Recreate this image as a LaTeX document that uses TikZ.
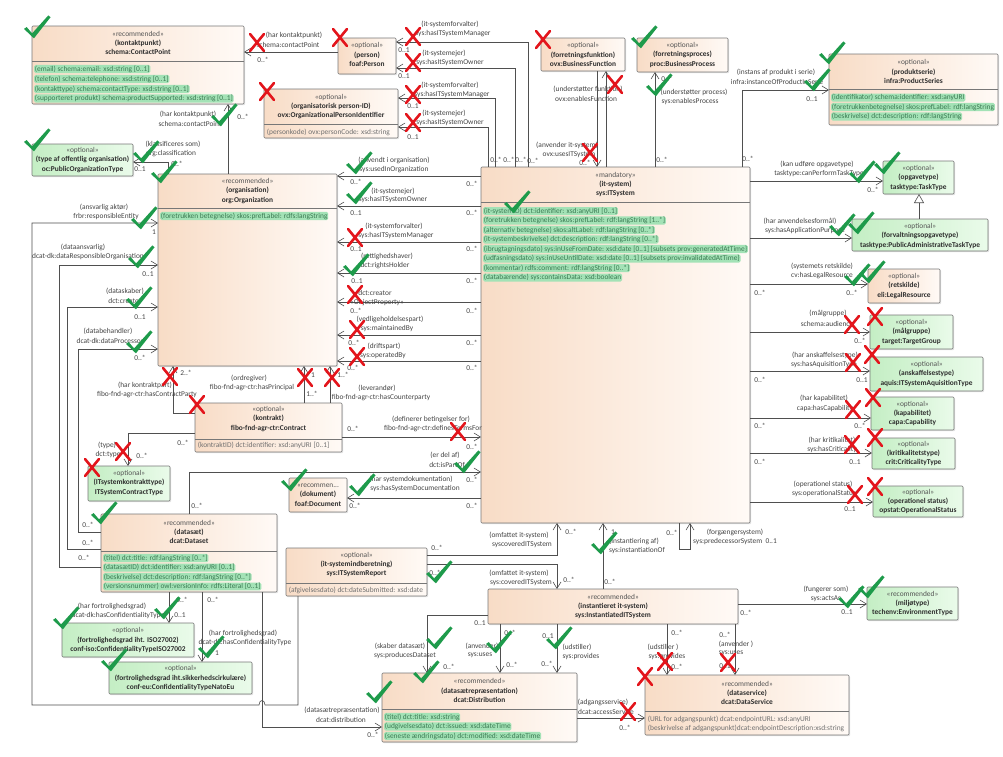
\documentclass[tikz,border=0pt]{standalone}
\usepackage{fontspec}
\setmainfont{Carlito}
\usetikzlibrary{arrows.meta,shadows}

\definecolor{peachL}{HTML}{F8DCC6}
\definecolor{peachR}{HTML}{FFFAF6}
\definecolor{greenL}{HTML}{C4EEC4}
\definecolor{greenR}{HTML}{EAFBEA}
\definecolor{edge}{HTML}{777777}
\definecolor{wire}{HTML}{4F4F4F}
\definecolor{txt}{HTML}{2E2E2E}
\definecolor{lbltxt}{HTML}{444444}
\definecolor{stereo}{HTML}{555555}
\definecolor{hl}{HTML}{A3E2B6}
\definecolor{hltxt}{HTML}{3B7A52}
\definecolor{attr}{HTML}{707070}
\definecolor{okgreen}{HTML}{1E9B4B}
\definecolor{nored}{HTML}{E3151C}

\tikzset{
  every node/.style={font=\fontsize{7.4}{9.4}\selectfont, text=txt},
  cls/.style={draw=edge, line width=0.6pt, rounded corners=1pt, inner sep=0pt, outer sep=0pt,
    anchor=north west, drop shadow={shadow xshift=1.2pt, shadow yshift=-1.2pt, opacity=0.22}},
  peach/.style={cls, left color=peachL, right color=peachR},
  mint/.style={cls, left color=greenL, right color=greenR},
  edgeline/.style={draw=edge, line width=0.6pt},
  hdrtext/.style={align=center, inner sep=0pt},
  hlatt/.style={fill=hl, text=hltxt, rounded corners=1.5pt, inner sep=0.7pt, anchor=west},
  plainatt/.style={text=attr, inner sep=0.7pt, anchor=west},
  lbl/.style={inner sep=0.3pt, text=lbltxt},
  assoc/.style={draw=wire, line width=0.6pt, -{Straight Barb[length=6.5pt,width=8pt,line width=0.6pt]}},
  gen/.style={draw=wire, line width=0.6pt, -{Triangle[open,length=9pt,width=10pt,fill=white]}},
  okmark/.style={fill=okgreen},
  nomark/.style={draw=nored, line width=2.6pt, line cap=round},
}

\newcounter{lbl}
% class box: name, style, x1, y1, x2, y2
\newcommand\klass[6]{\node[#2, minimum width={#5-#3}, minimum height={#6-#4}] (#1) at (#3,#4) {};}
% header text: name, x, y, stereotype, title, class name
\newcommand\hdr[6]{\node[hdrtext] (#1) at (#2,#3) {{\color{stereo}#4}\\\textbf{#5}\\\textbf{#6}};}
% compartment line across a box
\newcommand\divider[2]{\draw[edgeline] (#1.west |- 0,#2) -- (#1.east |- 0,#2);}
% highlighted and plain attributes
\newcommand\hatt[3]{\stepcounter{lbl}\node[hlatt] (a\arabic{lbl}) at (#1,#2) {#3};}
\newcommand\patt[3]{\stepcounter{lbl}\node[plainatt] (a\arabic{lbl}) at (#1,#2) {#3};}
% connector label
\newcommand\lab[3]{\stepcounter{lbl}\node[lbl] (t\arabic{lbl}) at (#1,#2) {#3};}
% review marks
\newcommand\chk[2]{\fill[okmark, shift={(#1,#2)}, scale=0.9] (-10,-9) -- (-7,-11) -- (-1,-4) -- (17,-24) -- (19.5,-22) -- (1,1.5) -- cycle;}
\newcommand\nox[2]{\draw[nomark] (#1-7,#2-9) -- (#1+7,#2+8) (#1+7,#2-9) -- (#1-7,#2+8);}

\begin{document}
\begin{tikzpicture}[x=1pt,y=-1pt]
\useasboundingbox (0,0) rectangle (1003,756);
\fill[white] (0,0) rectangle (1003,756);

% ---------------- classes ----------------
\klass{cp}{peach}{32}{26}{244}{104}
\hdr{cph}{138}{43}{«recommended»}{(kontaktpunkt)}{schema:ContactPoint}
\divider{cp}{61}
\hatt{34}{69}{(email) schema:email: xsd:string [0..1]}
\hatt{34}{79}{(telefon) schema:telephone: xsd:string [0..1]}
\hatt{34}{89}{(kontakttype) schema:contactType: xsd:string [0..1]}
\hatt{34}{98.5}{(supporteret produkt) schema:productSupported: xsd:string [0..1]}

\klass{person}{peach}{338}{38}{396}{74}
\hdr{personh}{367}{54.5}{«optional»}{(person)}{foaf:Person}

\klass{opi}{peach}{264}{89}{398}{138}
\hdr{opih}{331}{106.5}{«optional»}{(organisatorisk person-ID)}{ovx:OrganizationalPersonIdentifier}
\divider{opi}{124}
\patt{266}{132}{(personkode) ovx:personCode: xsd:string}

\klass{bf}{peach}{541}{38}{625}{71}
\hdr{bfh}{583}{54.5}{«optional»}{(forretningsfunktion)}{ovx:BusinessFunction}

\klass{bp}{peach}{637}{38}{728}{72}
\hdr{bph}{682.5}{55}{«optional»}{(forretningsproces)}{proc:BusinessProcess}

\klass{ps}{peach}{829}{54}{998}{125}
\hdr{psh}{913.5}{71.5}{«optional»}{(produktserie)}{infra:ProductSeries}
\divider{ps}{89}
\hatt{831}{97.5}{(identifikator) schema:identifier: xsd:anyURI}
\hatt{831}{107}{(foretrukkenbetegnelse) skos:prefLabel: rdf:langString}
\hatt{831}{116.5}{(beskrivelse) dct:description: rdf:langString}

\klass{pot}{mint}{32}{144}{133}{176}
\hdr{poth}{82.5}{160}{«optional»}{(type af offentlig organisation)}{oc:PublicOrganizationType}

\klass{org}{peach}{158}{174}{337}{366}
\hdr{orgh}{247.5}{191}{«recommended»}{(organisation)}{org:Organization}
\divider{org}{208}
\hatt{160}{216}{(foretrukken betegnelse) skos:prefLabel: rdfs:langString}

\klass{its}{peach}{481}{167}{750}{523}
\hdr{itsh}{615.5}{184.5}{«mandatory»}{(it-system)}{sys:ITSystem}
\divider{its}{202}
\hatt{483}{211}{(it-systemID) dct:identifier: xsd:anyURI [0..1]}
\hatt{483}{220.5}{(foretrukken betegnelse) skos:prefLabel: rdf:langString [1..*]}
\hatt{483}{230}{(alternativ betegnelse) skos:altLabel: rdf:langString [0..*]}
\hatt{483}{239.5}{(it-systembeskrivelse) dct:description: rdf:langString [0..*]}
\hatt{483}{249}{(ibrugtagningsdato) sys:inUseFromDate: xsd:date [0..1] \{subsets prov:generatedAtTime\}}
\hatt{483}{258.5}{(udfasningsdato) sys:inUseUntilDate: xsd:date [0..1] \{subsets prov:invalidatedAtTime\}}
\hatt{483}{268}{(kommentar) rdfs:comment: rdf:langString [0..*]}
\hatt{483}{277.5}{(databærende) sys:containsData: xsd:boolean}

\klass{tt}{mint}{883}{161}{954}{194}
\hdr{tth}{918.5}{178}{«optional»}{(opgavetype)}{tasktype:TaskType}

\klass{pat}{mint}{852}{219}{988}{251}
\hdr{path}{920}{236}{«optional»}{(forvaltningsopgavetype)}{tasktype:PublicAdministrativeTaskType}

\klass{lr}{peach}{868}{269}{940}{303}
\hdr{lrh}{904}{286}{«optional»}{(retskilde)}{eli:LegalResource}

\klass{tg}{mint}{870}{315}{953}{349}
\hdr{tgh}{911.5}{332}{«optional»}{(målgruppe)}{target:TargetGroup}

\klass{aq}{mint}{870}{357}{983}{391}
\hdr{aqh}{926.5}{374}{«optional»}{(anskaffelsestype)}{aquis:ITSystemAquisitionType}

\klass{capa}{mint}{871}{397}{954}{430}
\hdr{capah}{912.5}{413.5}{«optional»}{(kapabilitet)}{capa:Capability}

\klass{crit}{mint}{872}{438}{955}{469}
\hdr{crith}{913.5}{453.5}{«optional»}{(kritikalitetstype)}{crit:CriticalityType}

\klass{ops}{mint}{873}{486}{963}{517}
\hdr{opsh}{918}{501.5}{«optional»}{(operationel status)}{opstat:OperationalStatus}

\klass{env}{mint}{867}{587}{958}{620}
\hdr{envh}{912.5}{603.5}{«recommended»}{(miljøtype)}{techenv:EnvironmentType}

\klass{dsv}{peach}{645}{675}{849}{735}
\hdr{dsvh}{747}{693}{«recommended»}{(dataservice)}{dcat:DataService}
\divider{dsv}{711}
\patt{647}{719}{(URL for adgangspunkt) dcat:endpointURL: xsd:anyURI}
\patt{647}{728.5}{(beskrivelse af adgangspunkt)dcat:endpointDescription:xsd:string}

\klass{inst}{peach}{488}{589}{738}{624}
\hdr{insth}{613}{606.5}{«recommended»}{(instantieret it-system)}{sys:InstantiatedITSystem}

\klass{dist}{peach}{382}{673}{577}{742}
\hdr{disth}{479.5}{690.5}{«recommended»}{(datasætrepræsentation)}{dcat:Distribution}
\divider{dist}{709}
\hatt{384}{717}{(titel) dct:title: xsd:string}
\hatt{384}{726.5}{(udgivelsesdato) dct:issued: xsd:dateTime}
\hatt{384}{736}{(seneste ændringsdato) dct:modified: xsd:dateTime}

\klass{rep}{peach}{286}{548}{427}{596}
\hdr{reph}{356.5}{564.5}{«optional»}{(it-systemindberetning)}{sys:ITSystemReport}
\divider{rep}{583}
\patt{288}{590.5}{(afgivelsesdato) dct:dateSubmitted: xsd:date}

\klass{dset}{peach}{101}{514}{277}{592}
\hdr{dseth}{189}{532}{«recommended»}{(datasæt)}{dcat:Dataset}
\divider{dset}{551}
\hatt{103}{558}{(titel) dct:title: rdf:langString [0..*]}
\hatt{103}{567.5}{(datasætID) dct:identifier: xsd:anyURI [0..1]}
\hatt{103}{577}{(beskrivelse) dct:description: rdf:langString [0..*]}
\hatt{103}{586.5}{(versionsnummer) owl:versionInfo: rdfs:Literal [0..1]}

\klass{doc}{peach}{289}{478}{347}{512}
\hdr{doch}{318}{495}{«recommen...}{(dokument)}{foaf:Document}

\klass{con}{peach}{195}{403}{342}{452}
\hdr{conh}{268.5}{419}{«optional»}{(kontrakt)}{fibo-fnd-agr-ctr:Contract}
\divider{con}{439}
\patt{197}{445.5}{(kontraktID) dct:identifier: xsd:anyURI [0..1]}

\klass{ict}{mint}{88}{466}{170}{501}
\hdr{icth}{129}{483}{«optional»}{(ITsystemkontrakttype)}{ITSystemContractType}

\klass{iso}{mint}{62}{623}{194}{657}
\hdr{isoh}{128}{640}{«optional»}{(fortrolighedsgrad iht. ISO27002)}{conf-iso:ConfidentialityTypeISO27002}

\klass{nato}{mint}{109}{662}{252}{694}
\hdr{natoh}{180.5}{678}{«optional»}{(fortrolighedsgrad iht.sikkerhedscirkulære)}{conf-eu:ConfidentialityTypeNatoEu}

% ---------------- associations ----------------
% organisation and its neighbours
\draw[assoc] (org.north -| 228,0) -- (cp.south -| 228,0);
\draw[assoc] (person.west |- 0,52) -- (cp.east |- 0,52);
\draw[assoc] (org.north -| 168,0) |- (pot.east |- 0,162);
% it-system to organisation
\draw[assoc] (its.west |- 0,176) -- (org.east |- 0,176);
\draw[assoc] (its.west |- 0,206) -- (org.east |- 0,206);
\draw[assoc] (its.west |- 0,242) -- (org.east |- 0,242);
\draw[assoc] (its.west |- 0,273) -- (org.east |- 0,273);
\draw[assoc] (its.west |- 0,302) -- (org.east |- 0,302);
\draw[assoc] (its.west |- 0,335) -- (org.east |- 0,335);
\draw[assoc] (its.west |- 0,361) -- (org.east |- 0,361);
% it-system to person and person-ID
\draw[assoc] (its.north -| 528,0) |- (person.east |- 0,42);
\draw[assoc] (its.north -| 515,0) |- (person.east |- 0,68);
\draw[assoc] (its.north -| 495,0) |- (opi.east |- 0,98);
\draw[assoc] (its.north -| 488,0) |- (opi.east |- 0,127);
% business function and process
\draw[assoc] (its.north -| 606,0) -- (bf.south -| 606,0);
\draw[assoc] (bf.south -| 597,0) -- (its.north -| 597,0);
\draw[assoc] (its.north -| 655,0) -- (bp.south -| 655,0);
\draw[assoc] (its.north -| 742,0) |- (ps.west |- 0,90);
% right-hand value types
\draw[assoc] (its.east |- 0,181) -- (tt.west |- 0,181);
\draw[assoc] (its.east |- 0,238) -- (pat.west |- 0,238);
\draw[gen] (pat.north -| 919,0) -- (tt.south -| 919,0);
\draw[assoc] (its.east |- 0,284) -- (lr.west |- 0,284);
\draw[assoc] (its.east |- 0,332) -- (tg.west |- 0,332);
\draw[assoc] (its.east |- 0,371) -- (aq.west |- 0,371);
\draw[assoc] (its.east |- 0,418) -- (capa.west |- 0,418);
\draw[assoc] (its.east |- 0,453) -- (crit.west |- 0,453);
\draw[assoc] (its.east |- 0,502) -- (ops.west |- 0,502);
% contract
\draw[assoc] (con.east |- 0,437) -- (its.west |- 0,437);
\draw[assoc] (con.west |- 0,413) -| (org.south -| 173,0);
\draw[assoc] (con.north -| 304,0) -- (org.south -| 304,0);
\draw[assoc] (con.north -| 330,0) -- (org.south -| 330,0);
\draw[assoc] (con.west |- 0,433) -| (ict.north -| 128,0);
% dataset
\draw[assoc] (dset.north -| 189,0) |- (its.west |- 0,472);
\draw[assoc] (its.west |- 0,498) -- (doc.east |- 0,498);
\draw[assoc] (dset.west |- 0,567) -| (59,265) -- (org.west |- 0,265);
\draw[assoc] (dset.west |- 0,549) -| (67,307) -- (org.west |- 0,307);
\draw[assoc] (dset.west |- 0,532) -| (78,349) -- (org.west |- 0,349);
\draw[assoc] (rep.south -| 298,0) -- (298,705) -- (265,705)
   .. controls (265,699) and (259,699) .. (259,705) -- (32,705) |- (org.west |- 0,223);
\draw[assoc] (dset.south -| 262,0) |- (dist.west |- 0,727);
\draw[assoc] (dset.south -| 169,0) -- (iso.north -| 169,0);
\draw[assoc] (dset.south -| 202,0) -- (nato.north -| 202,0);
% report and instances
\draw[assoc] (rep.east |- 0,555) -| (its.south -| 557,0);
\draw[assoc] (rep.east |- 0,564) -| (inst.north -| 557,0);
\draw[assoc] (inst.north -| 603,0) -- (its.south -| 603,0);
\draw[assoc] (its.south -| 679,0) -- (679,549) -- (690,549) -- (its.south -| 690,0);
\draw[assoc] (inst.east |- 0,604) -- (env.west |- 0,604);
\draw[assoc] (inst.west |- 0,615) -| (dist.north -| 427,0);
\draw[assoc] (inst.south -| 500,0) -- (dist.north -| 500,0);
\draw[assoc] (inst.south -| 557,0) -- (dist.north -| 557,0);
\draw[assoc] (inst.south -| 667,0) -- (dsv.north -| 667,0);
\draw[assoc] (inst.south -| 735,0) -- (dsv.north -| 735,0);
\draw[assoc] (dist.east |- 0,718) -- (dsv.west |- 0,718);

% ---------------- association labels ----------------
\lab{294}{35}{(har kontaktpunkt)}
\lab{288}{44.5}{schema:contactPoint}
\lab{263}{60}{0..*}
\lab{450}{24}{(it-systemforvalter)}
\lab{453}{34}{sys:hasITSystemManager}
\lab{404}{50}{0..1}
\lab{444}{53}{(it-systemejer)}
\lab{450}{62.5}{sys:hasItSystemOwner}
\lab{404}{76}{0..1}
\lab{450}{85}{(it-systemforvalter)}
\lab{452}{95}{sys:hasITSystemManager}
\lab{413}{106}{0..1}
\lab{444}{113}{(it-systemejer)}
\lab{450}{123}{sys:hasItSystemOwner}
\lab{413}{137}{0..1}
\lab{496}{160}{0..*}
\lab{509}{160}{0..*}
\lab{521}{160}{0..*}
\lab{533}{161}{0..*}
\lab{588}{89}{(understøtter funktion)}
\lab{586}{99}{ovx:enablesFunction}
\lab{567}{145.5}{(anvender it-system)}
\lab{569}{155}{ovx:usesITSystem}
\lab{585}{163}{0..*}
\lab{694}{92}{(understøtter process)}
\lab{690}{101.5}{sys:enablesProcess}
\lab{667}{79}{0..*}
\lab{662}{160}{0..*}
\lab{776}{72}{(instans af produkt i serie)}
\lab{777}{81.5}{infra:instanceOfProductInSerie}
\lab{812}{99}{0..1}
\lab{748}{159}{0..*}
% organisation side
\lab{188}{114}{(har kontaktpunkt)}
\lab{190}{123.5}{schema:contactPoint}
\lab{243}{117}{0..*}
\lab{173}{144}{(klassificeres som)}
\lab{171}{153.5}{org:classification}
\lab{140}{169}{0..1}
\lab{177}{164}{0..*}
\lab{394}{160}{(anvendt i organisation)}
\lab{394}{169.5}{sys:usedInOrganization}
\lab{356}{182}{0..*}
\lab{472}{184}{0..*}
\lab{393}{191}{(it-systemejer)}
\lab{393}{200}{sys:hasITSystemOwner}
\lab{356}{213}{0..1}
\lab{472}{213}{0..*}
\lab{394}{226}{(it-systemforvalter)}
\lab{396}{236}{sys:hasITSystemManager}
\lab{356}{249}{0..1}
\lab{472}{249}{0..*}
\lab{387}{256}{(rettighedshaver)}
\lab{385}{266}{dct:rightsHolder}
\lab{357}{281}{0..1}
\lab{472}{281}{0..*}
\lab{375}{293}{dct:creator}
\lab{377}{303}{«ObjectProperty»}
\lab{356}{311}{0..*}
\lab{472}{311}{0..*}
\lab{390}{319}{(vedligeholdelsespart)}
\lab{387}{329}{sys:maintainedBy}
\lab{354}{343}{0..*}
\lab{472}{343}{0..*}
\lab{384}{346}{(driftspart)}
\lab{383}{355.5}{sys:operatedBy}
\lab{353}{368}{0..*}
\lab{472}{368}{0..*}
\lab{104}{207}{(ansvarlig aktør)}
\lab{106}{216.5}{frbr:responsibleEntity}
\lab{154}{232}{1}
\lab{83}{247}{(dataansvarlig)}
\lab{88}{256.5}{dcat-dk:dataResponsibleOrganisation}
\lab{148}{274}{0..1}
\lab{125}{291}{(dataskaber)}
\lab{125}{300.5}{dct:creator}
\lab{140}{317}{0..1}
\lab{108}{331}{(databehandler)}
\lab{110}{340.5}{dcat-dk:dataProcessor}
\lab{140}{358}{0..*}
% contract
\lab{186}{373}{2..*}
\lab{145}{385}{(har kontraktpart)}
\lab{147}{394.5}{fibo-fnd-agr-ctr:hasContractParty}
\lab{249}{378}{(ordregiver)}
\lab{252}{388}{fibo-fnd-agr-ctr:hasPrincipal}
\lab{313}{375}{1}
\lab{312}{394}{1..*}
\lab{343}{375}{1..*}
\lab{377}{388}{(leverandør)}
\lab{381}{398}{fibo-fnd-agr-ctr:hasCounterparty}
\lab{431}{419}{(definerer betingelser for)}
\lab{433}{429}{fibo-fnd-agr-ctr:definesTermsFor}
\lab{353}{429}{0..*}
\lab{472}{447}{0..*}
\lab{107}{445}{(type)}
\lab{108}{454.5}{dct:type}
\lab{142}{456}{0..*}
\lab{183}{443}{0..*}
\lab{445}{455}{(er del af)}
\lab{447}{465}{dct:isPartOf}
\lab{472}{480}{0..*}
\lab{411}{479}{(har systemdokumentation)}
\lab{415}{489}{sys:hasSystemDocumentation}
\lab{355}{506}{0..*}
\lab{472}{506}{0..*}
% dataset
\lab{88}{525}{0..*}
\lab{88}{543}{0..*}
\lab{84}{558}{0..*}
\lab{197}{506}{0..*}
\lab{112}{606}{(har fortrolighedsgrad)}
\lab{118}{615.5}{dcat-dk:hasConfidentialityType}
\lab{182}{600}{0..*}
\lab{180}{615}{0..1}
\lab{243}{633}{(har fortrolighedsgrad)}
\lab{245}{642.5}{dcat-dk:hasConfidentialityType}
\lab{213}{600}{0..*}
\lab{217}{653}{1}
\lab{342}{710}{(datasætrepræsentation)}
\lab{341}{719.5}{dcat:distribution}
\lab{373}{735}{0..*}
% report, instances, distribution
\lab{437}{548}{0..*}
\lab{435}{573}{0..*}
\lab{519}{535}{(omfattet it-system)}
\lab{522}{544.5}{syscoveredITSystem}
\lab{571}{532}{0..*}
\lab{519}{573}{(omfattet it-system)}
\lab{521}{582.5}{sys:coveredITSystem}
\lab{569}{580}{0..*}
\lab{634}{541}{(instantiering af)}
\lab{637}{551}{sys:instantiationOf}
\lab{613}{532}{1}
\lab{610}{582}{0..*}
\lab{735}{532}{(forgængersystem)}
\lab{735}{542}{sys:predecessorSystem\ \ 0..1}
\lab{672}{533}{0..*}
\lab{826}{589}{(fungerer som)}
\lab{826}{598.5}{sys:actsAs}
\lab{847}{612}{0..1}
\lab{746}{613}{0..*}
\lab{400}{646}{(skaber datasæt)}
\lab{405}{655.5}{sys:producesDataset}
\lab{480}{623}{0..1}
\lab{449}{667}{0..*}
\lab{482}{646}{(anvender)}
\lab{480}{655.5}{sys:uses}
\lab{510}{633}{0..*}
\lab{512}{665}{0..*}
\lab{548}{636}{0..1}
\lab{577}{647}{(udstiller)}
\lab{581}{656.5}{sys:provides}
\lab{547}{664}{0..*}
\lab{663}{647}{(udstiller )}
\lab{667}{656.5}{sys:provides}
\lab{677}{633}{0..*}
\lab{677}{667}{0..*}
\lab{736}{644}{(anvender )}
\lab{731}{653.5}{sys:uses}
\lab{725}{635}{0..*}
\lab{725}{666}{0..1}
\lab{603}{702}{(adgangsservice)}
\lab{606}{711.5}{dcat:accessService}
\lab{625}{728}{0..*}
% right-hand labels
\lab{817}{164}{(kan udføre opgavetype)}
\lab{819}{173.5}{tasktype:canPerformTaskType}
\lab{873}{190}{0..*}
\lab{800}{221}{(har anvendelsesformål)}
\lab{805}{230.5}{sys:hasApplicationPurpose}
\lab{822}{266}{(systemets retskilde)}
\lab{822}{276}{cv:hasLegalResource}
\lab{852}{293}{0..*}
\lab{760}{293}{0..*}
\lab{828}{313}{(målgruppe)}
\lab{827}{323.5}{schema:audience}
\lab{860}{341}{0..*}
\lab{825}{355}{(har anskaffelsestype)}
\lab{824}{364.5}{sys:hasAquisitionType}
\lab{760}{380}{0..*}
\lab{862}{380}{0..1}
\lab{824}{398}{(har kapabilitet)}
\lab{825}{408.5}{capa:hasCapability}
\lab{760}{426}{0..*}
\lab{860}{426}{0..*}
\lab{832}{440}{(har kritikalitet)}
\lab{832}{450}{sys:hasCriticality}
\lab{760}{462}{0..*}
\lab{855}{462}{0..1}
\lab{823}{484}{(operationel status)}
\lab{824}{493.5}{sys:operationalStatus}
\lab{850}{509}{0..1}

% ---------------- review marks ----------------
\chk{33}{37}  \chk{220}{125} \chk{33}{150}  \chk{142}{162} \chk{160}{182}
\chk{140}{228} \chk{137}{267} \chk{135}{308} \chk{135}{352} \chk{355}{173}
\chk{355}{203} \chk{352}{275} \chk{463}{472} \chk{290}{490} \chk{358}{495}
\chk{640}{47}  \chk{655}{95}  \chk{513}{212} \chk{828}{63}  \chk{813}{90}
\chk{858}{182} \chk{883}{173} \chk{838}{235} \chk{857}{233} \chk{853}{285}
\chk{868}{282} \chk{847}{607} \chk{867}{597} \chk{100}{523} \chk{62}{628}
\chk{163}{618} \chk{110}{670} \chk{207}{657} \chk{435}{582} \chk{435}{648}
\chk{422}{682} \chk{375}{702} \chk{495}{652} \chk{600}{553} \chk{555}{648}

\nox{257}{43} \nox{340}{38} \nox{413}{37} \nox{413}{63} \nox{267}{92}
\nox{413}{95} \nox{413}{123} \nox{355}{238} \nox{543}{40} \nox{615}{85}
\nox{590}{153} \nox{170}{377} \nox{197}{405} \nox{123}{452} \nox{92}{468}
\nox{355}{295} \nox{357}{330} \nox{357}{357} \nox{305}{378} \nox{332}{378}
\nox{458}{432} \nox{852}{325} \nox{875}{317} \nox{853}{363} \nox{872}{355}
\nox{853}{410} \nox{873}{398} \nox{852}{445} \nox{875}{438} \nox{855}{495}
\nox{875}{487} \nox{665}{662} \nox{645}{677} \nox{628}{712} \nox{728}{663}
\end{tikzpicture}
\end{document}
